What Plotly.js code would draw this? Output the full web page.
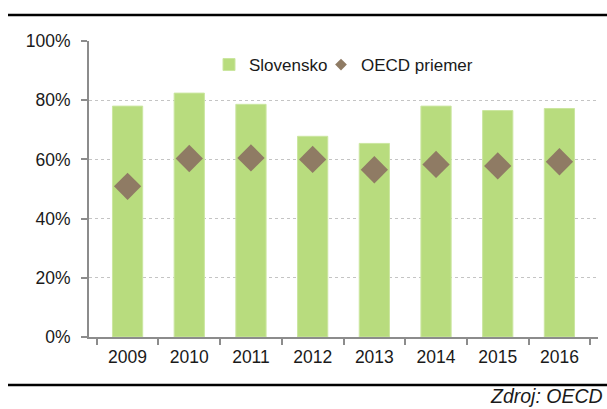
<!DOCTYPE html>
<html>
<head>
<meta charset="utf-8">
<script src="https://cdn.plot.ly/plotly-3.0.1.min.js"></script>
<style>html,body{margin:0;padding:0;background:#fff;}#chart{width:607px;height:409px;}</style>
</head>
<body>
<div id="chart"></div>
<script>
var years = ['2009','2010','2011','2012','2013','2014','2015','2016'];
var slovensko = [78.0, 82.4, 78.6, 67.8, 65.4, 78.0, 76.5, 77.2];
var oecdPriemer = [50.9, 60.3, 60.5, 60.0, 56.5, 58.3, 57.8, 59.2];
var yTicks = [0, 20, 40, 60, 80, 100];
var seriesNames = ['Slovensko', 'OECD priemer'];
var sourceText = 'Zdroj: OECD';

var green = '#B8DC7E';
var brown = '#8F7B64';
var axisGrey = '#8C8C8C';

var traces = [
  {
    type: 'bar', x: years, y: slovensko, name: seriesNames[0],
    marker: {color: green, line: {color: '#CBE6A0', width: 1}},
    legend: 'legend'
  },
  {
    type: 'scatter', mode: 'markers', x: years, y: oecdPriemer, name: seriesNames[1],
    showlegend: false,
    marker: {symbol: 'diamond', size: 21, color: brown}
  },
  {
    type: 'scatter', mode: 'markers', x: [null], y: [null], name: seriesNames[1],
    marker: {symbol: 'diamond', size: 9, color: brown},
    legend: 'legend2'
  }
];

var fam = '"Liberation Sans", Arial, sans-serif';
var font = {family: fam, size: 17, color: '#1A1A1A'};

function legendAt(px) {
  return {
    orientation: 'h', x: (px - 89) / 509, y: 0.919, xanchor: 'left', yanchor: 'middle',
    bgcolor: 'rgba(0,0,0,0)', font: font, itemwidth: 30
  };
}

var layout = {
  width: 607, height: 409,
  margin: {l: 89, r: 9, t: 41, b: 72, pad: 0},
  paper_bgcolor: '#fff', plot_bgcolor: '#fff',
  font: font,
  bargap: 0.51,
  showlegend: true,
  legend: legendAt(209),
  legend2: legendAt(321),
  xaxis: {
    type: 'category', categoryorder: 'array', categoryarray: years,
    showline: true, linecolor: axisGrey, linewidth: 2,
    ticks: 'outside', tickson: 'boundaries', ticklen: 6, tickcolor: axisGrey, tickwidth: 2,
    ticklabelstandoff: 3,
    showgrid: false, zeroline: false, fixedrange: true,
    tickfont: {family: fam, size: 17.5, color: '#1A1A1A'}
  },
  yaxis: {
    range: [0, 100], tickvals: yTicks, ticktext: yTicks.map(function(v){return v + '%';}),
    showline: true, linecolor: axisGrey, linewidth: 2,
    ticks: 'outside', ticklen: 6, tickcolor: axisGrey, tickwidth: 2,
    ticklabelstandoff: 7,
    showgrid: true, gridcolor: '#C4C4C4', gridwidth: 1, griddash: 'dot',
    zeroline: false, fixedrange: true,
    tickfont: {family: fam, size: 17.5, color: '#1A1A1A'}
  },
  shapes: [
    {type: 'line', xref: 'paper', yref: 'paper', x0: (8-89)/509, x1: (607-89)/509, y0: (337-15)/296, y1: (337-15)/296, line: {color: '#000', width: 2.5}},
    {type: 'line', xref: 'paper', yref: 'paper', x0: (8-89)/509, x1: (607-89)/509, y0: (337-385)/296, y1: (337-385)/296, line: {color: '#000', width: 2.5}}
  ],
  annotations: [
    {text: '<i>' + sourceText + '</i>', xref: 'paper', yref: 'paper', x: (605-89)/509, y: (337-396)/296,
     xanchor: 'right', yanchor: 'middle', showarrow: false,
     font: {family: fam, size: 19.5, color: '#1A1A1A'}}
  ]
};

Plotly.newPlot('chart', traces, layout, {displayModeBar: false, staticPlot: true});
</script>
</body>
</html>
